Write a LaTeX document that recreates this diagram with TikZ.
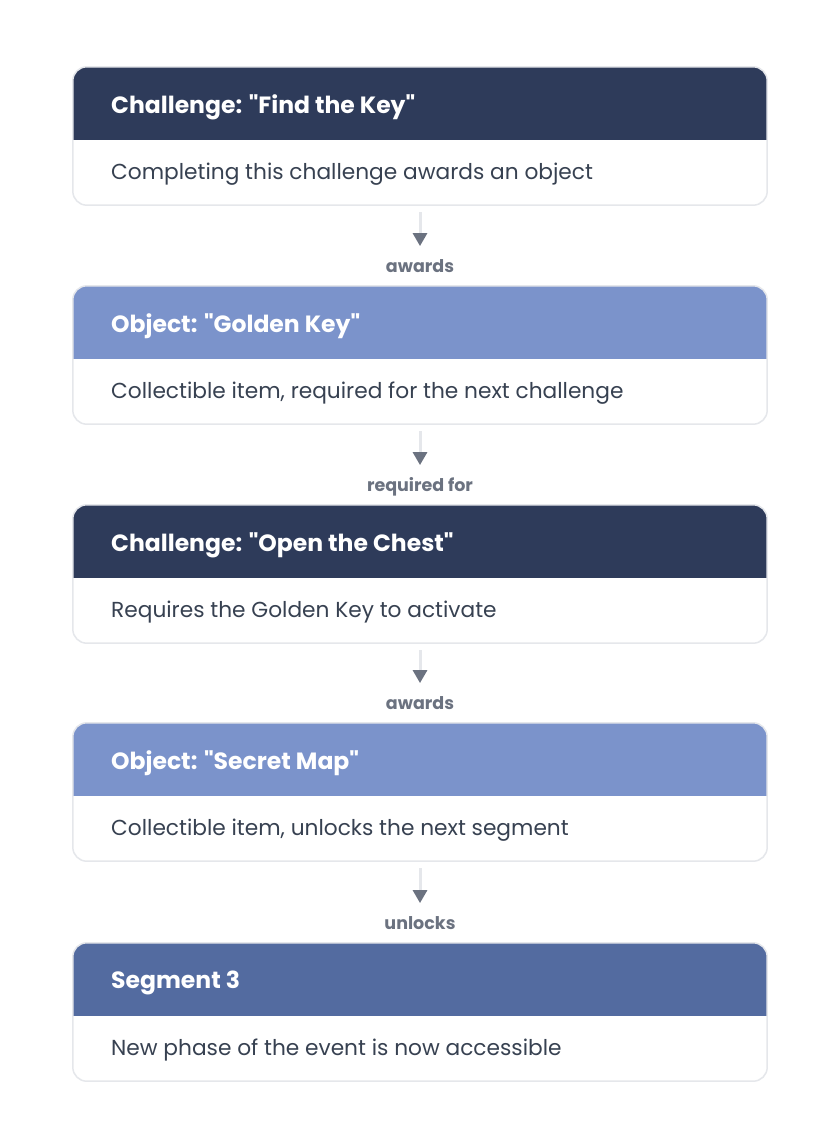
\documentclass[tikz,border=0pt]{standalone}
\usepackage{fontspec}
\setmainfont{Poppins}
\usetikzlibrary{arrows.meta}
\definecolor{navy}{HTML}{2E3B5A}
\definecolor{objblue}{HTML}{7B93CB}
\definecolor{segblue}{HTML}{536BA0}
\definecolor{cardline}{HTML}{E5E7EB}
\definecolor{bodytext}{HTML}{374151}
\definecolor{labtext}{HTML}{6B7280}
\definecolor{connline}{HTML}{E5E7EB}
\begin{document}
\begin{tikzpicture}[x=1pt,y=-1pt,line join=round,>=Stealth]
	\tikzset{card/.style={fill=white,minimum width=694pt,minimum height=138pt,inner sep=0pt},
		title/.style={anchor=west,inner sep=0pt,text=white,font=\bfseries\fontsize{23.5}{27}\selectfont},
		body/.style={anchor=west,inner sep=0pt,text=bodytext,font=\fontsize{21.7}{25}\selectfont},
		lab/.style={text=labtext,inner sep=1pt,text height=12pt,text depth=3pt,font=\bfseries\fontsize{17.5}{20}\selectfont},
		conn/.style={draw=connline,line width=3pt,-{Triangle[width=14pt,length=13pt,color=labtext]},shorten <=7pt,shorten >=13pt}}
	\useasboundingbox (0,0) rectangle (840,1148);
	% cards
	\foreach \n/\y/\c/\t/\b in {1/67/navy/{Challenge: \textquotedbl Find the Key\textquotedbl}/{Completing this challenge awards an object},
		2/286/objblue/{Object: \textquotedbl Golden Key\textquotedbl}/{Collectible item, required for the next challenge},
		3/505/navy/{Challenge: \textquotedbl Open the Chest\textquotedbl}/{Requires the Golden Key to activate},
		4/723/objblue/{Object: \textquotedbl Secret Map\textquotedbl}/{Collectible item, unlocks the next segment},
		5/943/segblue/{Segment 3}/{New phase of the event is now accessible}}{
		\node[card] (c\n) at (420,\y+69) {};
		\begin{scope}
			\clip[rounded corners=14pt] (c\n.north west) rectangle (c\n.south east);
			\fill[\c] (c\n.north west) rectangle (767,\y+73);
		\end{scope}
		\draw[cardline,line width=1.5pt,rounded corners=14pt] (c\n.north west) rectangle (c\n.south east);
		\node[title] (t\n) at (111,\y+40) {\t};
		\node[body] (b\n) at (111,\y+107) {\b};
	}
	% connectors
	\foreach \n/\m/\l in {1/2/awards,2/3/required for,3/4/awards,4/5/unlocks}{
		\node[lab] (lab\n) at ([yshift=18pt]c\m.north) {\l};
		\draw[conn] (c\n.south) -- (lab\n.north);
	}
\end{tikzpicture}
\end{document}
